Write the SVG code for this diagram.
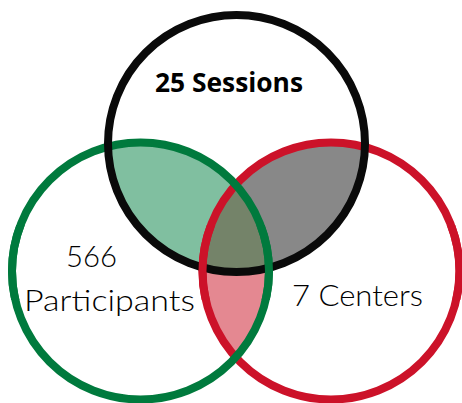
<svg xmlns="http://www.w3.org/2000/svg" width="462" height="403" viewBox="0 0 462 403">
<style>
.ring{fill:none;stroke-width:8}
.blk{stroke:#0a0a0a}
.grn{stroke:#007a3d}
.red{stroke:#cc1229}
.lbl{font-family:Lato,"Open Sans",sans-serif;font-weight:300;font-size:30px;fill:#000}
.bold{font-family:"Open Sans","Liberation Sans",sans-serif;font-weight:700;font-size:26px;fill:#000}
</style>
<defs>
<clipPath id="cB"><circle cx="236.5" cy="143.5" r="128.5"/></clipPath>
<clipPath id="cG"><circle cx="140.5" cy="271" r="128.5"/></clipPath>
<clipPath id="band"><rect x="0" y="225" width="462" height="75"/></clipPath>
</defs>
<rect width="462" height="403" fill="#fff"/>
<g id="fills">
<g clip-path="url(#cB)"><circle cx="140.5" cy="271" r="128.5" fill="#80bfa0"/><circle cx="331" cy="271" r="128.5" fill="#888888"/></g>
<g clip-path="url(#cG)"><circle cx="331" cy="271" r="128.5" fill="#e48891"/></g>
<g clip-path="url(#cB)"><g clip-path="url(#cG)"><circle cx="331" cy="271" r="128.5" fill="#748369"/></g></g>
</g>
<g id="centers"><circle class="ring red" cx="331" cy="271" r="128.5"/></g>
<g id="participants"><circle class="ring grn" cx="140.5" cy="271" r="128.5"/></g>
<g id="sessions"><circle class="ring blk" cx="236.5" cy="143.5" r="128.5"/></g>
<g id="overlap-strokes" clip-path="url(#band)">
<circle class="ring red" cx="331" cy="271" r="128.5"/>
<circle class="ring grn" cx="140.5" cy="271" r="128.5"/>
</g>
<g id="labels">
<text class="bold" x="155" y="92" textLength="148" lengthAdjust="spacingAndGlyphs">25 Sessions</text>
<text class="lbl" x="66" y="267" textLength="51" lengthAdjust="spacingAndGlyphs">566</text>
<text class="lbl" x="24" y="311" textLength="171" lengthAdjust="spacingAndGlyphs">Participants</text>
<text class="lbl" x="292" y="306" textLength="131" lengthAdjust="spacingAndGlyphs">7 Centers</text>
</g>
</svg>
